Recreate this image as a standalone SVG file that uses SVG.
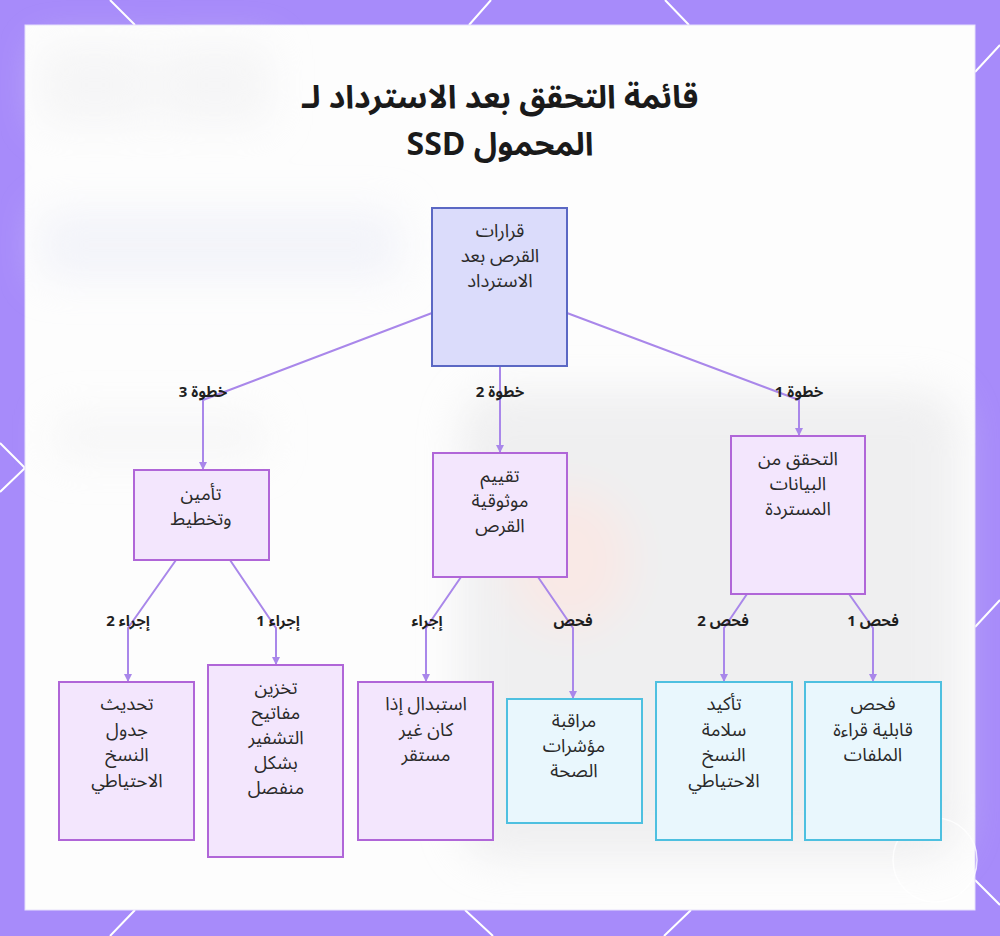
<svg xmlns="http://www.w3.org/2000/svg" width="1000" height="936" viewBox="0 0 1000 936">
<defs>
<style>
.ar{font-family:"Noto Sans Arabic","Noto Sans","DejaVu Sans",sans-serif;}
.title{font-family:"Noto Sans Arabic","Noto Sans","DejaVu Sans",sans-serif;font-size:32px;font-weight:700;fill:#1a1a1a;text-anchor:middle;}
.nt{font-size:18.5px;fill:#2a2a2a;text-anchor:middle;}
.el{font-size:15px;font-weight:700;fill:#1f1f1f;text-anchor:middle;}
.root{fill:#dbdcfb;stroke:#5b68c4;stroke-width:2;}
.mid{fill:#f3e6fd;stroke:#b066d8;stroke-width:2;}
.cy{fill:#e9f7fd;stroke:#4ec0e0;stroke-width:2;}
.edge{fill:none;stroke:#a987ea;stroke-width:2;}
.hex{fill:none;stroke:#ffffff;stroke-width:2;}
</style>
<marker id="arr" viewBox="0 0 8 8" refX="7" refY="4" markerWidth="4" markerHeight="4" orient="auto">
<path d="M0,0 L8,4 L0,8 z" fill="#a987ea"/>
</marker>
<filter id="blur" x="-20%" y="-20%" width="140%" height="140%"><feGaussianBlur stdDeviation="20"/></filter>
</defs>
<rect x="0" y="0" width="1000" height="936" fill="#a78bfa"/>
<g id="pattern">
<path class="hex" d="M110,0 L135,25 M491,0 L469,25 M665,0 L689,25 M1000,45 L975,72 M0,443 L25,468 L0,492 M1000,600 L975,627 M135,910 L110,936 M465,910 L493,936 M691,910 L664,936 M975,880 L1000,905"/>
</g>
<rect x="25" y="25" width="950" height="885" fill="#fdfdfd" stroke="#e6e0fb" stroke-width="1"/>
<g id="background" filter="url(#blur)" opacity="0.5">
<rect x="460" y="390" width="500" height="470" rx="40" fill="#e2e2e4"/>
<ellipse cx="570" cy="560" rx="60" ry="70" fill="#f6d6d0"/>
<rect x="40" y="45" width="110" height="80" fill="#eeeef0"/>
<rect x="160" y="45" width="110" height="80" fill="#eeeef0"/>
<rect x="40" y="210" width="360" height="70" fill="#e9ebf6"/>
<rect x="55" y="415" width="210" height="45" fill="#f0f0f1"/>
</g>
<circle cx="935" cy="860" r="42" fill="none" stroke="#ffffff" stroke-width="1.5" opacity="0.8"/>
<g id="title">
<text class="title" x="500" y="108" direction="rtl">قائمة التحقق بعد الاسترداد لـ</text>
<text class="title" x="500" y="155">SSD المحمول</text>
</g>
<g id="connectors">
<polyline class="edge" points="432,313 203,400 203,469" marker-end="url(#arr)"/>
<polyline class="edge" points="500,366 500,452" marker-end="url(#arr)"/>
<polyline class="edge" points="567,313 799,400 799,435" marker-end="url(#arr)"/>
<polyline class="edge" points="176,560 128,628 128,681" marker-end="url(#arr)"/>
<polyline class="edge" points="230,560 276,628 276,664" marker-end="url(#arr)"/>
<polyline class="edge" points="461,577 426,628 426,681" marker-end="url(#arr)"/>
<polyline class="edge" points="538,577 573,628 573,698" marker-end="url(#arr)"/>
<polyline class="edge" points="747,594 724,628 724,681" marker-end="url(#arr)"/>
<polyline class="edge" points="849,594 873,628 873,681" marker-end="url(#arr)"/>
<g class="ar">
<text class="el" x="203" y="397" direction="rtl">خطوة 3</text>
<text class="el" x="500" y="397" direction="rtl">خطوة 2</text>
<text class="el" x="799" y="397" direction="rtl">خطوة 1</text>
<text class="el" x="128" y="626" direction="rtl">إجراء 2</text>
<text class="el" x="278" y="626" direction="rtl">إجراء 1</text>
<text class="el" x="427" y="626" direction="rtl">إجراء</text>
<text class="el" x="573" y="626" direction="rtl">فحص</text>
<text class="el" x="723" y="626" direction="rtl">فحص 2</text>
<text class="el" x="873" y="626" direction="rtl">فحص 1</text>
</g>
</g>
<g id="root" class="ar">
<rect class="root" x="432" y="208" width="135" height="158"/>
<text class="nt" x="500" y="237" direction="rtl">قرارات</text>
<text class="nt" x="500" y="262" direction="rtl">القرص بعد</text>
<text class="nt" x="500" y="287" direction="rtl">الاسترداد</text>
</g>
<g id="n-secure" class="ar">
<rect class="mid" x="134" y="470" width="135" height="90"/>
<text class="nt" x="201" y="500" direction="rtl">تأمين</text>
<text class="nt" x="201" y="525" direction="rtl">وتخطيط</text>
</g>
<g id="n-reliability" class="ar">
<rect class="mid" x="433" y="453" width="134" height="124"/>
<text class="nt" x="500" y="482" direction="rtl">تقييم</text>
<text class="nt" x="500" y="507" direction="rtl">موثوقية</text>
<text class="nt" x="500" y="532" direction="rtl">القرص</text>
</g>
<g id="n-verify" class="ar">
<rect class="mid" x="731" y="436" width="134" height="158"/>
<text class="nt" x="798" y="465" direction="rtl">التحقق من</text>
<text class="nt" x="798" y="490" direction="rtl">البيانات</text>
<text class="nt" x="798" y="515" direction="rtl">المستردة</text>
</g>
<g id="n-update" class="ar">
<rect class="mid" x="59" y="682" width="135" height="158"/>
<text class="nt" x="127" y="710" direction="rtl">تحديث</text>
<text class="nt" x="127" y="736" direction="rtl">جدول</text>
<text class="nt" x="127" y="761" direction="rtl">النسخ</text>
<text class="nt" x="127" y="787" direction="rtl">الاحتياطي</text>
</g>
<g id="n-keys" class="ar">
<rect class="mid" x="208" y="665" width="135" height="192"/>
<text class="nt" x="276" y="694" direction="rtl">تخزين</text>
<text class="nt" x="276" y="719" direction="rtl">مفاتيح</text>
<text class="nt" x="276" y="744" direction="rtl">التشفير</text>
<text class="nt" x="276" y="769" direction="rtl">بشكل</text>
<text class="nt" x="276" y="794" direction="rtl">منفصل</text>
</g>
<g id="n-replace" class="ar">
<rect class="mid" x="358" y="682" width="135" height="158"/>
<text class="nt" x="426" y="710" direction="rtl">استبدال إذا</text>
<text class="nt" x="426" y="736" direction="rtl">كان غير</text>
<text class="nt" x="426" y="761" direction="rtl">مستقر</text>
</g>
<g id="n-health" class="ar">
<rect class="cy" x="507" y="699" width="135" height="124"/>
<text class="nt" x="574" y="727" direction="rtl">مراقبة</text>
<text class="nt" x="574" y="752" direction="rtl">مؤشرات</text>
<text class="nt" x="574" y="777" direction="rtl">الصحة</text>
</g>
<g id="n-backup" class="ar">
<rect class="cy" x="656" y="682" width="136" height="158"/>
<text class="nt" x="724" y="710" direction="rtl">تأكيد</text>
<text class="nt" x="724" y="736" direction="rtl">سلامة</text>
<text class="nt" x="724" y="761" direction="rtl">النسخ</text>
<text class="nt" x="724" y="787" direction="rtl">الاحتياطي</text>
</g>
<g id="n-readable" class="ar">
<rect class="cy" x="805" y="682" width="136" height="158"/>
<text class="nt" x="873" y="710" direction="rtl">فحص</text>
<text class="nt" x="873" y="736" direction="rtl">قابلية قراءة</text>
<text class="nt" x="873" y="761" direction="rtl">الملفات</text>
</g>
</svg>
